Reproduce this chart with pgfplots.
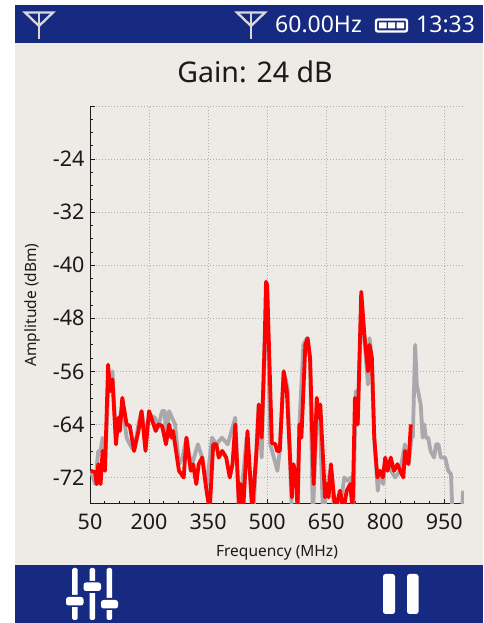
\documentclass[border=0pt]{standalone}
\usepackage{pgfplots}
\pgfplotsset{compat=1.18}
\usepackage{fontspec}
\setmainfont{Noto Sans}
\definecolor{navy}{HTML}{152A80}
\definecolor{panel}{HTML}{EEEBE6}
\definecolor{trace}{HTML}{A9A9AD}
\definecolor{ink}{HTML}{1A1A1A}
\newcommand{\antenna}[1]{%
  \draw[line width=2.3pt,draw=white!85!black,line join=miter] (#1-14,12.5) -- (#1+14,12.5) -- (#1,26) -- cycle;
  \draw[line width=2.6pt,draw=white!85!black] (#1,12) -- (#1,39);}
\begin{document}
\begin{tikzpicture}
\useasboundingbox (0,0) rectangle (483pt,623pt);
\begin{scope}[x=1pt,y=-1pt,yshift=623pt]
  \fill[white] (0,0) rectangle (483,623);
  \fill[panel] (15,43) rectangle (483,565);
  \fill[navy] (15,5) rectangle (483,43);
  \fill[navy] (15,565) rectangle (483,623);
  \antenna{39}
  \antenna{251}
  \node[anchor=base west,text=white,font=\fontsize{23}{23}\selectfont,inner sep=0pt] at (275,33) {60.00Hz};
  \node[anchor=base west,text=white,font=\fontsize{23}{23}\selectfont,inner sep=0pt] at (416,33) {13:33};
  \draw[white,line width=2.4pt,rounded corners=2pt] (376,19.5) rectangle (407,31.5);
  \fill[white] (379,22.5) rectangle (386.5,28.5) (388,22.5) rectangle (395,28.5) (396.5,22.5) rectangle (404,28.5);
  \node[anchor=base,text=ink,font=\fontsize{28.5}{28.5}\selectfont,inner sep=0pt] at (255,83) {Gain: 24 dB};
  \fill[white,rounded corners=1.5pt] (72,568) rectangle (77.5,620) (89.5,568) rectangle (95,620) (106.5,568) rectangle (112,620);
  \fill[navy] (64,595) rectangle (85,607) (81,581) rectangle (103,593) (99,598) rectangle (120,610);
  \fill[white,rounded corners=2.5pt] (66,597) rectangle (83.5,605.5) (83.5,582.5) rectangle (101,591) (101,600) rectangle (118,608.5);
  \fill[white,rounded corners=2.5pt] (383,574) rectangle (395,614) (407,574) rectangle (418.5,614);
\end{scope}
\begin{axis}[
  at={(90pt,119pt)},anchor=south west,
  scale only axis,width=374pt,height=398pt,
  xmin=50,xmax=1000,ymin=-76,ymax=-16,
  axis lines=left,
  axis line style={-,line width=1pt,draw=ink},
  xtick={50,200,350,500,650,800,950},
  xticklabels={50,200,350,500,650,800,950},
  ytick={-72,-64,-56,-48,-40,-32,-24,-16},
  yticklabels={-72,-64,-56,-48,-40,-32,-24,},
  minor x tick num=3,minor y tick num=3,
  tick align=inside,
  tick style={draw=ink,line width=0.7pt},
  major tick length=5pt,minor tick length=2.5pt,
  grid=major,
  major grid style={dash pattern=on 0.9pt off 2.1pt,draw=black!32,line width=0.8pt},
  ticklabel style={font=\fontsize{21.5}{21.5}\selectfont,text=ink},
  xticklabel style={yshift=-6pt},
  yticklabel style={xshift=-2pt},
  label style={font=\fontsize{15.5}{15.5}\selectfont,text=ink},
  xlabel={Frequency (MHz)},
  ylabel={Amplitude (dBm)},
  xlabel style={yshift=-9pt},
  ylabel style={yshift=6pt},
  clip=true,
]
\addplot[draw=trace,line width=3.8pt,line join=round] coordinates {
  (52,-71) (63,-73) (71,-68) (77,-68) (82,-66) (88,-70) (96,-59) (101,-59)
  (107,-56) (116,-66) (122,-64) (132,-61) (143,-66) (151,-67) (162,-68)
  (173,-64) (181,-62) (191,-66) (200,-62.5) (215,-63) (223,-64.5) (233,-62)
  (240,-62) (243,-66) (251,-62) (266,-64) (276,-70) (285,-69) (295,-66)
  (307,-70.5) (324,-67) (335,-69) (346,-73.5) (360,-66) (371,-67) (385,-66)
  (400,-67) (419,-63) (429,-78) (448,-66) (465,-78) (478,-61) (486,-69)
  (494,-51) (500,-43) (508,-67) (526,-71) (532,-68) (542,-56) (552,-58.5)
  (563,-78) (577,-78) (582,-64) (592,-52) (601,-51) (609,-54) (616,-78)
  (626,-63) (633,-61.5) (642,-78) (652,-73.5) (660,-71) (673,-78) (684,-77)
  (696,-72) (704,-72.5) (712,-72) (719,-77) (725,-59) (730,-64) (739,-46)
  (747,-51) (756,-58) (760,-51) (766,-54) (772,-66) (781,-74) (787,-71)
  (795,-73) (800,-69.5) (825,-72) (838,-71) (850,-67) (859,-70) (867,-66)
  (870,-66) (876,-52) (880,-58) (890,-61) (895,-66) (899,-64) (903,-66)
  (909,-66) (915,-68) (924,-69) (929,-67) (935,-67) (941,-69) (952,-69)
  (960,-71) (967,-71.5) (971,-78) (994,-78) (998,-74)
};
\addplot[draw=red,line width=3.8pt,line join=round] coordinates {
  (52,-71) (63,-71.2) (67,-73) (71,-70) (77,-73) (82,-68) (88,-71) (96,-55)
  (101,-59) (107,-57.2) (116,-67) (122,-63) (126,-65) (132,-60) (143,-64)
  (151,-64.2) (162,-68) (173,-65) (181,-62) (191,-68) (200,-62) (217,-65)
  (223,-64) (233,-64.2) (243,-67) (251,-64) (257,-66) (261,-65) (276,-71)
  (288,-72) (295,-66) (306,-71) (312,-70) (320,-73) (326,-70) (335,-69)
  (346,-74) (354,-77) (363,-67) (371,-67) (377,-69) (386,-68) (396,-69)
  (405,-72) (412,-70) (419,-64) (429,-77) (433,-73) (439,-77) (450,-65)
  (462,-77) (473,-68) (479,-61) (486,-66) (494,-51) (497,-42.5) (500,-43)
  (512,-66.8) (521,-67) (525,-68) (532,-68) (542,-56) (550,-59) (563,-75)
  (567,-70) (574,-72) (577,-77) (582,-64) (587,-66) (597,-52) (603,-51)
  (609,-54) (618,-73) (626,-60) (631,-63) (635,-61) (647,-75) (652,-73)
  (656,-75) (662,-70) (673,-77) (685,-74) (694,-77) (702,-74) (711,-73)
  (717,-77) (723,-60) (730,-64) (739,-44) (747,-50.5) (756,-56) (760,-52)
  (766,-54) (772,-66) (780,-72) (787,-71) (794,-72) (800,-69) (806,-71)
  (814,-69) (822,-71) (831,-70) (838,-71) (846,-72) (850,-68) (859,-70) (865,-64)
};
\end{axis}
\end{tikzpicture}
\end{document}
